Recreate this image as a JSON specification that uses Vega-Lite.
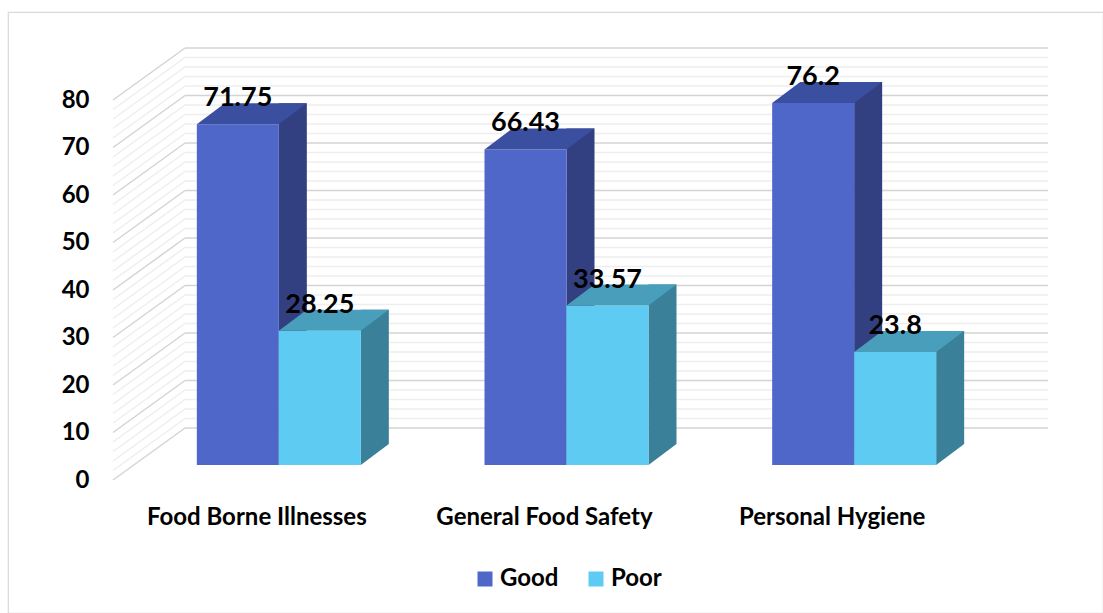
{
  "$schema": "https://vega.github.io/schema/vega-lite/v6.json",
  "width": 1095,
  "height": 601,
  "autosize": "none",
  "padding": {"left": 8, "top": 12, "right": 0, "bottom": 0},
  "background": "white",
  "config": {
    "view": {"stroke": "#d9d9d9", "strokeWidth": 1.2},
    "font": "Lato"
  },
  "datasets": {
    "scores": [
      {"topic": "Food Borne Illnesses", "rating": "Good", "pct": 71.75},
      {"topic": "Food Borne Illnesses", "rating": "Poor", "pct": 28.25},
      {"topic": "General Food Safety", "rating": "Good", "pct": 66.43},
      {"topic": "General Food Safety", "rating": "Poor", "pct": 33.57},
      {"topic": "Personal Hygiene", "rating": "Good", "pct": 76.2},
      {"topic": "Personal Hygiene", "rating": "Poor", "pct": 23.8}
    ],
    "majorGrid": [{"v": 0}, {"v": 10}, {"v": 20}, {"v": 30}, {"v": 40}, {"v": 50}, {"v": 60}, {"v": 70}, {"v": 80}],
    "minorGrid": [
      {"v": 2}, {"v": 4}, {"v": 6}, {"v": 8},
      {"v": 12}, {"v": 14}, {"v": 16}, {"v": 18},
      {"v": 22}, {"v": 24}, {"v": 26}, {"v": 28},
      {"v": 32}, {"v": 34}, {"v": 36}, {"v": 38},
      {"v": 42}, {"v": 44}, {"v": 46}, {"v": 48},
      {"v": 52}, {"v": 54}, {"v": 56}, {"v": 58},
      {"v": 62}, {"v": 64}, {"v": 66}, {"v": 68},
      {"v": 72}, {"v": 74}, {"v": 76}, {"v": 78}
    ]
  },
  "layer": [
    {
      "data": {"name": "minorGrid"},
      "mark": {"type": "rule", "color": "#eeeeee", "strokeWidth": 1.5, "xOffset": 72, "x2Offset": 72, "yOffset": -52, "y2Offset": -52},
      "encoding": {
        "x": {
          "datum": "Food Borne Illnesses", "type": "nominal", "bandPosition": 0,
          "scale": {"domain": ["Food Borne Illnesses", "General Food Safety", "Personal Hygiene"], "range": [105, 968], "paddingInner": 0, "paddingOuter": 0},
          "axis": {"orient": "bottom", "offset": -132, "domain": false, "ticks": false, "grid": false, "labelPadding": 24, "labelFontSize": 24, "labelFontWeight": "bold", "labelColor": "black", "labelFont": "Lato", "labelAngle": 0, "labelLimit": 0, "title": null}
        },
        "x2": {"datum": "Personal Hygiene", "bandPosition": 1},
        "y": {
          "field": "v", "type": "quantitative",
          "scale": {"domain": [0, 80], "range": [468, 88], "nice": false},
          "axis": {"orient": "left", "offset": -105, "values": [0, 10, 20, 30, 40, 50, 60, 70, 80], "domain": false, "ticks": false, "grid": false, "labelPadding": 24, "labelFontSize": 24, "labelFontWeight": "bold", "labelColor": "black", "labelFont": "Lato", "title": null}
        },
        "y2": {"field": "v"}
      }
    },
    {
      "data": {"name": "majorGrid"},
      "mark": {"type": "rule", "color": "#d4d4d4", "strokeWidth": 1.5, "xOffset": 72, "x2Offset": 72, "yOffset": -52, "y2Offset": -52},
      "encoding": {
        "x": {"datum": "Food Borne Illnesses", "type": "nominal", "bandPosition": 0, "title": null},
        "x2": {"datum": "Personal Hygiene", "bandPosition": 1},
        "y": {"field": "v", "type": "quantitative", "title": null},
        "y2": {"field": "v"}
      }
    },
    {
      "data": {"name": "minorGrid"},
      "mark": {"type": "rule", "color": "#eeeeee", "strokeWidth": 1.5, "x2Offset": 72, "y2Offset": -52},
      "encoding": {
        "x": {"datum": "Food Borne Illnesses", "type": "nominal", "bandPosition": 0, "title": null},
        "x2": {"datum": "Food Borne Illnesses", "bandPosition": 0},
        "y": {"field": "v", "type": "quantitative", "title": null},
        "y2": {"field": "v"}
      }
    },
    {
      "data": {"name": "majorGrid"},
      "mark": {"type": "rule", "color": "#d4d4d4", "strokeWidth": 1.5, "x2Offset": 72, "y2Offset": -52},
      "encoding": {
        "x": {"datum": "Food Borne Illnesses", "type": "nominal", "bandPosition": 0, "title": null},
        "x2": {"datum": "Food Borne Illnesses", "bandPosition": 0},
        "y": {"field": "v", "type": "quantitative", "title": null},
        "y2": {"field": "v"}
      }
    },
    {
      "data": {"name": "scores"},
      "transform": [{"filter": {"field": "rating", "equal": "Good"}}],
      "layer": [
        {
          "mark": {"type": "bar", "width": 28, "xOffset": 36, "yOffset": -36, "y2Offset": -36, "color": "#323f80"},
          "encoding": {
            "x": {"field": "topic", "type": "nominal", "title": null},
            "y": {"field": "pct", "type": "quantitative", "title": null}
          }
        },
        {
          "mark": {"type": "point", "shape": "M0,0L0,-0.512L0.683,-0.512Z", "size": 6724, "filled": true, "opacity": 1, "strokeWidth": 0, "color": "#323f80", "xOffset": 22, "yOffset": -15},
          "encoding": {
            "x": {"field": "topic", "type": "nominal", "title": null},
            "y": {"datum": 0, "type": "quantitative", "title": null}
          }
        },
        {
          "mark": {"type": "bar", "width": 82, "xOffset": -19, "yOffset": -15, "y2Offset": -15},
          "encoding": {
            "x": {"field": "topic", "type": "nominal", "title": null},
            "y": {"field": "pct", "type": "quantitative", "title": null},
            "color": {
              "field": "rating", "type": "nominal",
              "scale": {"domain": ["Good", "Poor"], "range": ["#4e67c8", "#5ecbf3"]},
              "legend": {"orient": "none", "legendX": 465, "legendY": 555, "direction": "horizontal", "title": null, "symbolType": "square", "symbolSize": 225, "symbolStrokeWidth": 0, "labelFontSize": 24, "labelFontWeight": "bold", "labelColor": "black", "labelFont": "Lato", "columnPadding": 25, "labelOffset": 3, "padding": 0}
            }
          }
        },
        {
          "mark": {"type": "point", "shape": "M-1,0L1,0L1.683,-0.512L-0.317,-0.512Z", "size": 6724, "filled": true, "opacity": 1, "strokeWidth": 0, "color": "#3a4fa0", "xOffset": -19, "yOffset": -15},
          "encoding": {
            "x": {"field": "topic", "type": "nominal", "title": null},
            "y": {"field": "pct", "type": "quantitative", "title": null}
          }
        }
      ]
    },
    {
      "data": {"name": "scores"},
      "transform": [{"filter": {"field": "rating", "equal": "Poor"}}],
      "layer": [
        {
          "mark": {"type": "bar", "width": 28, "xOffset": 118, "yOffset": -36, "y2Offset": -36, "color": "#3a8099"},
          "encoding": {
            "x": {"field": "topic", "type": "nominal", "title": null},
            "y": {"field": "pct", "type": "quantitative", "title": null}
          }
        },
        {
          "mark": {"type": "point", "shape": "M0,0L0,-0.512L0.683,-0.512Z", "size": 6724, "filled": true, "opacity": 1, "strokeWidth": 0, "color": "#3a8099", "xOffset": 104, "yOffset": -15},
          "encoding": {
            "x": {"field": "topic", "type": "nominal", "title": null},
            "y": {"datum": 0, "type": "quantitative", "title": null}
          }
        },
        {
          "mark": {"type": "bar", "width": 82, "xOffset": 63, "yOffset": -15, "y2Offset": -15},
          "encoding": {
            "x": {"field": "topic", "type": "nominal", "title": null},
            "y": {"field": "pct", "type": "quantitative", "title": null},
            "color": {"field": "rating", "type": "nominal"}
          }
        },
        {
          "mark": {"type": "point", "shape": "M-1,0L1,0L1.683,-0.512L-0.317,-0.512Z", "size": 6724, "filled": true, "opacity": 1, "strokeWidth": 0, "color": "#489ebb", "xOffset": 63, "yOffset": -15},
          "encoding": {
            "x": {"field": "topic", "type": "nominal", "title": null},
            "y": {"field": "pct", "type": "quantitative", "title": null}
          }
        }
      ]
    },
    {
      "data": {"name": "scores"},
      "transform": [{"filter": {"field": "rating", "equal": "Good"}}],
      "mark": {"type": "text", "font": "Lato", "fontSize": 27, "fontWeight": "bold", "color": "black", "align": "center", "baseline": "alphabetic", "xOffset": -19, "yOffset": -33},
      "encoding": {
        "x": {"field": "topic", "type": "nominal", "title": null},
        "y": {"field": "pct", "type": "quantitative", "title": null},
        "text": {"field": "pct", "type": "quantitative"}
      }
    },
    {
      "data": {"name": "scores"},
      "transform": [{"filter": {"field": "rating", "equal": "Poor"}}],
      "mark": {"type": "text", "font": "Lato", "fontSize": 27, "fontWeight": "bold", "color": "black", "align": "center", "baseline": "alphabetic", "xOffset": 63, "yOffset": -33},
      "encoding": {
        "x": {"field": "topic", "type": "nominal", "title": null},
        "y": {"field": "pct", "type": "quantitative", "title": null},
        "text": {"field": "pct", "type": "quantitative"}
      }
    }
  ]
}
